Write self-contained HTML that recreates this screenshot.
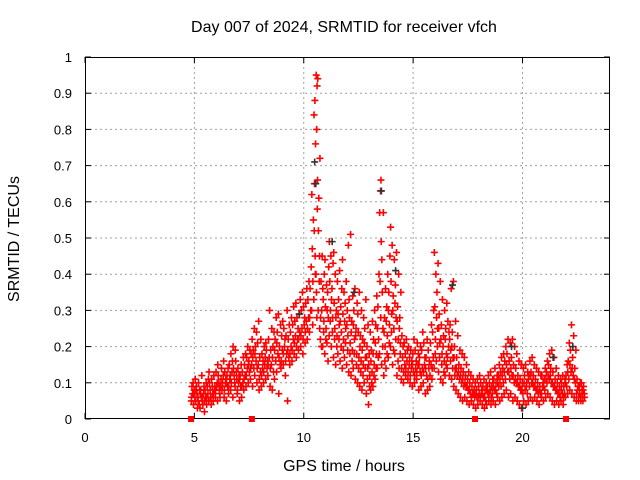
<!DOCTYPE html>
<html><head><meta charset="utf-8">
<style>
html,body{margin:0;padding:0;background:#fff;}
svg{display:block;font-family:"Liberation Sans",sans-serif;}
</style></head>
<body>
<svg id="chart" width="640" height="480" viewBox="0 0 640 480" xmlns="http://www.w3.org/2000/svg">
<rect x="0" y="0" width="640" height="480" fill="#fff"/>
<text x="344" y="32" text-anchor="middle" font-size="16" fill="#000">Day 007 of 2024, SRMTID for receiver vfch</text>
<text x="344" y="471" text-anchor="middle" font-size="16" fill="#000">GPS time / hours</text>
<text x="19" y="239" text-anchor="middle" font-size="16" fill="#000" transform="rotate(-90 19 239)">SRMTID / TECUs</text>
<g id="grid"></g>
<g id="axes"></g>
<g id="points"></g>
<g id="markers"></g>
</svg>
<script>
const xTicks = [0,5,10,15,20];
const yTicks = [0,0.1,0.2,0.3,0.4,0.5,0.6,0.7,0.8,0.9,1];
const yTickLabels = ["0","0.1","0.2","0.3","0.4","0.5","0.6","0.7","0.8","0.9","1"];
const gapHours = [4.85,7.63,17.83,21.99];
// each bin: [hour, values in 0.01 TECU ...]
const bins = [
[4.9,5,7,9,10,6],[5.0,4,6,8,11,7],[5.1,5,7,9,3,8],[5.2,6,4,10,8,5],[5.3,3,6,8,12,7],[5.4,5,7,4,9,6],
[5.5,2,6,8,10,5],[5.6,4,7,9,11,6],[5.7,5,8,10,6,13],[5.8,6,9,11,7,4],[5.9,5,8,12,9,7],[6.0,6,9,13,10,8],
[6.1,5,10,12,8,15],[6.2,7,11,9,14,6],[6.3,8,12,10,16,9],[6.4,6,10,13,11,8],[6.5,5,9,12,14,10],[6.6,7,11,15,12,9],
[6.7,8,13,10,16,18],[6.8,6,12,14,10,20],[6.9,9,13,16,11,19],[7.0,7,10,14,12,8],[7.1,5,9,12,15,11],[7.2,6,10,13,17,9],
[7.3,8,12,15,18,11],[7.4,9,14,17,20,12],[7.5,10,13,16,19,15],[7.6,11,15,18,22,14],[7.7,9,14,19,25,17],[7.8,12,16,20,24,18],
[7.9,10,15,21,27,14],[8.0,8,13,17,22,11],[8.1,9,14,18,16,12],[8.2,10,15,20,17,13],[8.3,11,14,19,16,21],[8.4,12,17,22,30,15],
[8.5,9,15,19,25,14],[8.6,8,13,20,24,17],[8.7,11,16,22,28,19],[8.8,13,18,24,29,21],[8.9,7,15,20,26,17],[9.0,14,19,23,27,16],
[9.1,15,20,25,22,18],[9.2,12,18,23,30,16],[9.3,5,17,22,26,19],[9.4,15,20,24,28,18],[9.5,16,22,26,31,19],[9.6,18,23,27,32,21],
[9.7,17,22,28,25,20],[9.8,19,24,29,33,22],[9.9,20,25,30,35,23],[10.0,18,26,31,28,22],[10.1,21,27,32,36,24],[10.2,22,28,33,38,25],
[10.3,24,30,36,42,28],[10.4,30,38,47,55,62,26],[10.5,33,45,65,76,84,88,40,52],[10.6,40,58,80,94,95,92,66,35,28],
[10.7,30,45,61,72,52,38,25],[10.8,22,30,38,45,28,20],[10.9,20,27,33,40,36,24],[11.0,18,25,31,37,44,22],
[11.1,21,28,35,42,30,16],[11.2,23,30,38,45,49,27],[11.3,20,28,36,43,33,24],[11.4,17,25,32,40,46,22],
[11.5,15,23,30,38,28,20],[11.6,18,26,33,41,29,22],[11.7,16,24,31,36,27,20],[11.8,14,22,29,35,44,19],
[11.9,17,25,32,38,27,21],[12.0,15,23,30,48,26,19],[12.1,13,21,28,51,33,18],[12.2,12,19,27,34,24,16],
[12.3,14,22,30,36,26,18],[12.4,11,18,25,32,23,15],[12.5,10,17,24,35,29,14],[12.6,9,16,23,30,20,13],
[12.7,8,15,22,28,19,12],[12.8,10,17,25,33,21,14],[12.9,7,14,20,26,17,11],[13.0,4,12,18,24,15,9],
[13.1,8,13,19,27,16,10],[13.2,9,15,22,30,18,12],[13.3,11,18,26,34,21,14],[13.4,14,22,31,40,25,17],
[13.5,18,28,38,49,57,63,66],[13.6,15,25,35,57,44,20],[13.7,12,20,28,36,24,16],[13.8,14,23,31,40,27,18],
[13.9,17,26,35,45,30,21],[14.0,20,29,38,48,53,24],[14.1,15,25,34,44,30,19],[14.2,18,28,37,46,32,22],
[14.3,12,22,31,40,27,16],[14.4,14,21,28,35,25,18],[14.5,11,17,23,20,14],[14.6,10,15,21,18,13],
[14.7,12,16,22,19,14],[14.8,11,15,20,17,13],[14.9,10,14,19,16,12],[15.0,9,13,18,22,15],
[15.1,10,14,19,16,12],[15.2,11,15,21,18,13],[15.3,8,13,17,20,15],[15.4,9,14,19,24,12],
[15.5,10,15,21,17,13],[15.6,7,12,17,22,14],[15.7,8,14,19,16,11],[15.8,9,15,21,26,12],
[15.9,11,17,24,30,14],[16.0,14,22,31,40,46,18],[16.1,16,25,35,43,28,20],[16.2,13,21,29,38,25,17],
[16.3,11,18,26,33,22,15],[16.4,10,16,23,30,20,13],[16.5,12,18,25,32,22,15],[16.6,14,20,27,24,17],
[16.7,12,19,26,36,22,16],[16.8,11,17,24,38,20,14],[16.9,9,14,20,27,17,12],[17.0,8,12,17,23,14],
[17.1,7,11,15,19,13],[17.2,6,10,14,18,12],[17.3,5,9,13,17,11],[17.4,6,9,12,15,10],[17.5,5,8,11,13,9],
[17.6,4,7,10,12,8],[17.7,5,7,9,11,6],[17.8,4,6,8,10,7],[17.9,3,6,8,11,7],[18.0,4,7,9,12,6],
[18.1,5,7,10,8,6],[18.2,4,6,9,11,7],[18.3,3,5,8,10,6],[18.4,4,7,9,12,8],[18.5,5,8,10,13,7],
[18.6,4,7,9,11,6],[18.7,5,8,11,14,9],[18.8,4,7,10,12,8],[18.9,6,9,12,15,10],[19.0,5,9,13,17,11],
[19.1,6,10,14,18,12],[19.2,7,11,16,20,13],[19.3,8,13,18,22,15],[19.4,6,11,16,21,13],[19.5,7,12,17,22,14],
[19.6,5,10,15,20,12],[19.7,6,10,14,18,11],[19.8,5,9,12,16,10],[19.9,4,8,11,15,9],[20.0,3,7,10,14,8],
[20.1,5,8,12,15,10],[20.2,4,7,10,13,9],[20.3,5,9,12,16,11],[20.4,6,10,13,17,12],[20.5,5,9,12,15,10],
[20.6,6,8,11,14,9],[20.7,5,7,10,13,8],[20.8,4,7,9,12,8],[20.9,6,9,12,10,7],[21.0,5,8,11,14,9],
[21.1,6,10,13,16,11],[21.2,7,11,15,18,12],[21.3,6,10,14,19,12],[21.4,5,9,13,17,10],[21.5,4,8,11,14,9],
[21.6,5,7,10,12,8],[21.7,4,6,9,11,7],[21.8,5,7,10,12,8],[21.9,4,7,9,11,6],[22.0,6,9,12,15,10],
[22.1,7,11,16,21,13],[22.2,8,13,19,26,15],[22.3,7,12,17,23,14],[22.4,6,10,14,19,11],[22.5,5,8,11,9,7],
[22.6,5,7,9,10,6],[22.7,6,8,10,7,5],[22.8,5,7,9,6,8]
];
const darkHours = [10.5,10.55,11.3,13.55,12.3,20.0,16.8,21.4,9.8,14.2,19.5,22.3];
const darkValues = [0.71,0.65,0.49,0.63,0.35,0.03,0.37,0.17,0.29,0.41,0.2,0.2];

const L=85,R=610,T=57,B=419;
const xMax=24;
function xs(h){return L+(h/xMax)*(R-L);}
function ys(v){return B-v*(B-T);}
const NS='http://www.w3.org/2000/svg';
function mk(tag,attrs,parent){const e=document.createElementNS(NS,tag);for(const k in attrs)e.setAttribute(k,attrs[k]);parent.appendChild(e);return e;}
const grid=document.getElementById('grid'),axes=document.getElementById('axes'),pts=document.getElementById('points'),mks=document.getElementById('markers');

yTicks.forEach((v,i)=>{
  const y=ys(v);
  if(i>0&&i<yTicks.length-1){const g=mk('line',{x1:L,x2:R,y1:y,y2:y,stroke:'#a0a0a0','stroke-dasharray':'2,3','stroke-width':1},grid);
  
  }
  const t1=mk('line',{x1:L,x2:L+6,y1:y,y2:y,stroke:'#000'},axes);
  
  
  const t2=mk('line',{x1:R-6,x2:R,y1:y,y2:y,stroke:'#000'},axes);
  
  
  const tx=mk('text',{x:L-13,y:y+5,'text-anchor':'end','font-size':13,fill:'#000'},axes);
  tx.textContent=yTickLabels[i];
  
  
});
xTicks.forEach(h=>{
  const x=xs(h);
  if(h>0){const g=mk('line',{x1:x,x2:x,y1:T,y2:B,stroke:'#a0a0a0','stroke-dasharray':'2,3','stroke-width':1},grid);
  
  }
  const t1=mk('line',{x1:x,x2:x,y1:B-6,y2:B,stroke:'#000'},axes);
  
  
  const t2=mk('line',{x1:x,x2:x,y1:T,y2:T+6,stroke:'#000'},axes);
  
  
  const tx=mk('text',{x:x,y:B+23,'text-anchor':'middle','font-size':13,fill:'#000'},axes);
  tx.textContent=String(h);
  
  
});
const frame=mk('rect',{x:L+0.5,y:T+0.5,width:R-L-1,height:B-T-1,fill:'none',stroke:'#000','stroke-width':1},axes);



function cross(x,y,col,parent){
  return mk('path',{d:`M${x-3.5},${y}h7M${x},${y-3.5}v7`,stroke:col,'stroke-width':1.6,fill:'none'},parent);
}
// small horizontal spread of points within each 0.1 h bin (display only)
const spread=[-0.04,0.02,-0.01,0.04,-0.03,0.01,0.03,-0.02,0.0];
bins.forEach(b=>{
  const h=b[0];
  for(let j=1;j<b.length;j++){
    const p=cross(xs(h+spread[(j-1)%spread.length]),ys(b[j]/100),'#ff0000',pts);
    
    
  }
});
darkHours.forEach((h,i)=>{
  const p=cross(xs(h),ys(darkValues[i]),'#333333',pts);
  
  
});
gapHours.forEach(h=>{
  const r=mk('rect',{x:xs(h)-3,y:B-3,width:6,height:6,fill:'#ff0000'},mks);
  
  
});
</script>
</body></html>
